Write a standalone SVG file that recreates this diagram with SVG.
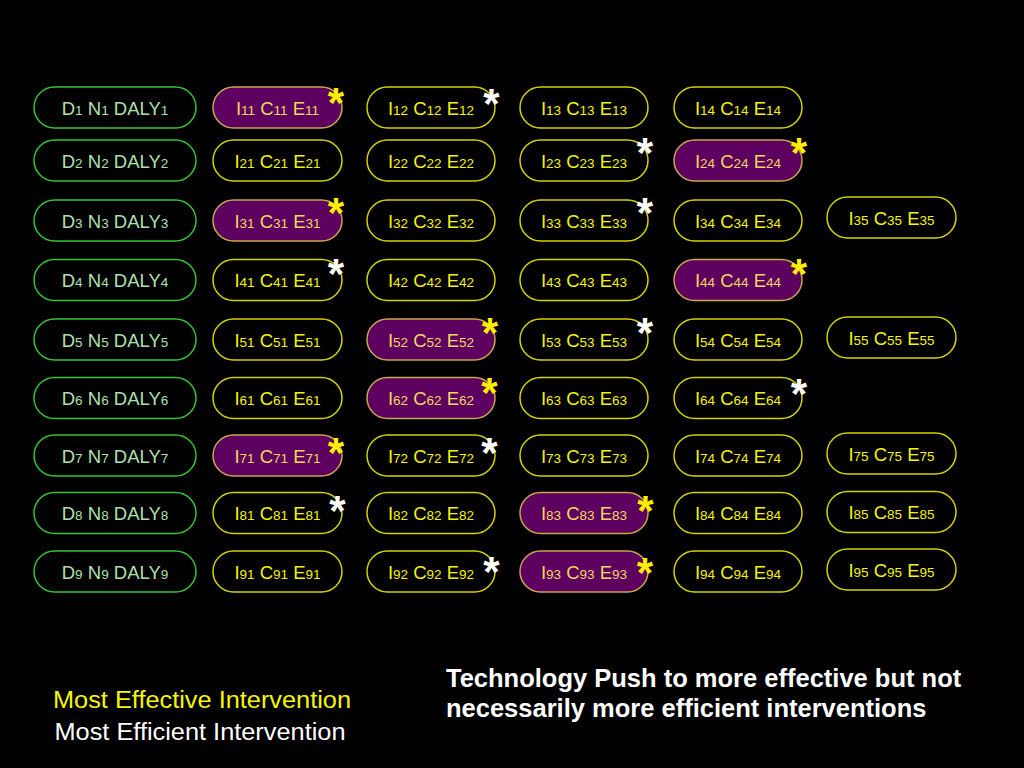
<svg xmlns="http://www.w3.org/2000/svg" width="1024" height="768" viewBox="0 0 1024 768">
<style>
.bg{fill:#000}
.dbox{fill:none;stroke:#33c433;stroke-width:1.5}
.ibox{fill:none;stroke:#d2d200;stroke-width:1.5}
.fbox{fill:#5e005f;stroke:#c8a848;stroke-width:1.5}
.dt{fill:#aee0ae;font-family:"Liberation Sans",Arial,sans-serif;font-size:18.5px;text-anchor:middle}
.it{fill:#f4f400;font-family:"Liberation Sans",Arial,sans-serif;font-size:18.5px;text-anchor:middle}
.ft{fill:#f2d860;font-family:"Liberation Sans",Arial,sans-serif;font-size:18.5px;text-anchor:middle}
.s{font-size:13.5px}
.star{font-family:"Liberation Sans",Arial,sans-serif;font-weight:bold;font-size:42px;text-anchor:middle}
.sy{fill:#ffee00}
.sw{fill:#ffffff}
.cap{font-family:"Liberation Sans",Arial,sans-serif;font-size:23px;text-anchor:middle}
.push{fill:#fff;font-family:"Liberation Sans",Arial,sans-serif;font-weight:bold;font-size:25.5px}
</style>
<rect class="bg" x="0" y="0" width="1024" height="768"/>

<g id="connectors"></g>

<!-- Column D -->
<g id="D1"><rect class="dbox" x="34" y="87" width="162" height="41" rx="20.5"/><text class="dt" x="115" y="114.5">D<tspan class="s">1</tspan> N<tspan class="s">1</tspan> DALY<tspan class="s">1</tspan></text></g>
<g id="D2"><rect class="dbox" x="34" y="140" width="162" height="41" rx="20.5"/><text class="dt" x="115" y="167.5">D<tspan class="s">2</tspan> N<tspan class="s">2</tspan> DALY<tspan class="s">2</tspan></text></g>
<g id="D3"><rect class="dbox" x="34" y="200" width="162" height="41" rx="20.5"/><text class="dt" x="115" y="227.5">D<tspan class="s">3</tspan> N<tspan class="s">3</tspan> DALY<tspan class="s">3</tspan></text></g>
<g id="D4"><rect class="dbox" x="34" y="259.5" width="162" height="41" rx="20.5"/><text class="dt" x="115" y="287">D<tspan class="s">4</tspan> N<tspan class="s">4</tspan> DALY<tspan class="s">4</tspan></text></g>
<g id="D5"><rect class="dbox" x="34" y="319" width="162" height="41" rx="20.5"/><text class="dt" x="115" y="346.5">D<tspan class="s">5</tspan> N<tspan class="s">5</tspan> DALY<tspan class="s">5</tspan></text></g>
<g id="D6"><rect class="dbox" x="34" y="377.5" width="162" height="41" rx="20.5"/><text class="dt" x="115" y="405">D<tspan class="s">6</tspan> N<tspan class="s">6</tspan> DALY<tspan class="s">6</tspan></text></g>
<g id="D7"><rect class="dbox" x="34" y="435" width="162" height="41" rx="20.5"/><text class="dt" x="115" y="462.5">D<tspan class="s">7</tspan> N<tspan class="s">7</tspan> DALY<tspan class="s">7</tspan></text></g>
<g id="D8"><rect class="dbox" x="34" y="492.5" width="162" height="41" rx="20.5"/><text class="dt" x="115" y="520">D<tspan class="s">8</tspan> N<tspan class="s">8</tspan> DALY<tspan class="s">8</tspan></text></g>
<g id="D9"><rect class="dbox" x="34" y="551" width="162" height="41" rx="20.5"/><text class="dt" x="115" y="578.5">D<tspan class="s">9</tspan> N<tspan class="s">9</tspan> DALY<tspan class="s">9</tspan></text></g>

<!-- Row 1 -->
<g id="I11"><rect class="fbox" x="213" y="87" width="129" height="41" rx="20.5"/><text class="ft" x="277.5" y="114.5">I<tspan class="s">11</tspan> C<tspan class="s">11</tspan> E<tspan class="s">11</tspan></text></g>
<g id="I12"><rect class="ibox" x="367" y="87" width="128" height="41" rx="20.5"/><text class="it" x="431" y="114.5">I<tspan class="s">12</tspan> C<tspan class="s">12</tspan> E<tspan class="s">12</tspan></text></g>
<g id="I13"><rect class="ibox" x="520" y="87" width="128" height="41" rx="20.5"/><text class="it" x="584" y="114.5">I<tspan class="s">13</tspan> C<tspan class="s">13</tspan> E<tspan class="s">13</tspan></text></g>
<g id="I14"><rect class="ibox" x="674" y="87" width="128" height="41" rx="20.5"/><text class="it" x="738" y="114.5">I<tspan class="s">14</tspan> C<tspan class="s">14</tspan> E<tspan class="s">14</tspan></text></g>

<!-- Row 2 -->
<g id="I21"><rect class="ibox" x="213" y="140" width="129" height="41" rx="20.5"/><text class="it" x="277.5" y="167.5">I<tspan class="s">21</tspan> C<tspan class="s">21</tspan> E<tspan class="s">21</tspan></text></g>
<g id="I22"><rect class="ibox" x="367" y="140" width="128" height="41" rx="20.5"/><text class="it" x="431" y="167.5">I<tspan class="s">22</tspan> C<tspan class="s">22</tspan> E<tspan class="s">22</tspan></text></g>
<g id="I23"><rect class="ibox" x="520" y="140" width="128" height="41" rx="20.5"/><text class="it" x="584" y="167.5">I<tspan class="s">23</tspan> C<tspan class="s">23</tspan> E<tspan class="s">23</tspan></text></g>
<g id="I24"><rect class="fbox" x="674" y="140" width="128" height="41" rx="20.5"/><text class="ft" x="738" y="167.5">I<tspan class="s">24</tspan> C<tspan class="s">24</tspan> E<tspan class="s">24</tspan></text></g>

<!-- Row 3 -->
<g id="I31"><rect class="fbox" x="213" y="200" width="129" height="41" rx="20.5"/><text class="ft" x="277.5" y="227.5">I<tspan class="s">31</tspan> C<tspan class="s">31</tspan> E<tspan class="s">31</tspan></text></g>
<g id="I32"><rect class="ibox" x="367" y="200" width="128" height="41" rx="20.5"/><text class="it" x="431" y="227.5">I<tspan class="s">32</tspan> C<tspan class="s">32</tspan> E<tspan class="s">32</tspan></text></g>
<g id="I33"><rect class="ibox" x="520" y="200" width="128" height="41" rx="20.5"/><text class="it" x="584" y="227.5">I<tspan class="s">33</tspan> C<tspan class="s">33</tspan> E<tspan class="s">33</tspan></text></g>
<g id="I34"><rect class="ibox" x="674" y="200" width="128" height="41" rx="20.5"/><text class="it" x="738" y="227.5">I<tspan class="s">34</tspan> C<tspan class="s">34</tspan> E<tspan class="s">34</tspan></text></g>
<g id="I35"><rect class="ibox" x="827" y="197" width="129" height="41" rx="20.5"/><text class="it" x="891.5" y="224.5">I<tspan class="s">35</tspan> C<tspan class="s">35</tspan> E<tspan class="s">35</tspan></text></g>

<!-- Row 4 -->
<g id="I41"><rect class="ibox" x="213" y="259.5" width="129" height="41" rx="20.5"/><text class="it" x="277.5" y="287">I<tspan class="s">41</tspan> C<tspan class="s">41</tspan> E<tspan class="s">41</tspan></text></g>
<g id="I42"><rect class="ibox" x="367" y="259.5" width="128" height="41" rx="20.5"/><text class="it" x="431" y="287">I<tspan class="s">42</tspan> C<tspan class="s">42</tspan> E<tspan class="s">42</tspan></text></g>
<g id="I43"><rect class="ibox" x="520" y="259.5" width="128" height="41" rx="20.5"/><text class="it" x="584" y="287">I<tspan class="s">43</tspan> C<tspan class="s">43</tspan> E<tspan class="s">43</tspan></text></g>
<g id="I44"><rect class="fbox" x="674" y="259.5" width="128" height="41" rx="20.5"/><text class="ft" x="738" y="287">I<tspan class="s">44</tspan> C<tspan class="s">44</tspan> E<tspan class="s">44</tspan></text></g>

<!-- Row 5 -->
<g id="I51"><rect class="ibox" x="213" y="319" width="129" height="41" rx="20.5"/><text class="it" x="277.5" y="346.5">I<tspan class="s">51</tspan> C<tspan class="s">51</tspan> E<tspan class="s">51</tspan></text></g>
<g id="I52"><rect class="fbox" x="367" y="319" width="128" height="41" rx="20.5"/><text class="ft" x="431" y="346.5">I<tspan class="s">52</tspan> C<tspan class="s">52</tspan> E<tspan class="s">52</tspan></text></g>
<g id="I53"><rect class="ibox" x="520" y="319" width="128" height="41" rx="20.5"/><text class="it" x="584" y="346.5">I<tspan class="s">53</tspan> C<tspan class="s">53</tspan> E<tspan class="s">53</tspan></text></g>
<g id="I54"><rect class="ibox" x="674" y="319" width="128" height="41" rx="20.5"/><text class="it" x="738" y="346.5">I<tspan class="s">54</tspan> C<tspan class="s">54</tspan> E<tspan class="s">54</tspan></text></g>
<g id="I55"><rect class="ibox" x="827" y="317" width="129" height="41" rx="20.5"/><text class="it" x="891.5" y="344.5">I<tspan class="s">55</tspan> C<tspan class="s">55</tspan> E<tspan class="s">55</tspan></text></g>

<!-- Row 6 -->
<g id="I61"><rect class="ibox" x="213" y="377.5" width="129" height="41" rx="20.5"/><text class="it" x="277.5" y="405">I<tspan class="s">61</tspan> C<tspan class="s">61</tspan> E<tspan class="s">61</tspan></text></g>
<g id="I62"><rect class="fbox" x="367" y="377.5" width="128" height="41" rx="20.5"/><text class="ft" x="431" y="405">I<tspan class="s">62</tspan> C<tspan class="s">62</tspan> E<tspan class="s">62</tspan></text></g>
<g id="I63"><rect class="ibox" x="520" y="377.5" width="128" height="41" rx="20.5"/><text class="it" x="584" y="405">I<tspan class="s">63</tspan> C<tspan class="s">63</tspan> E<tspan class="s">63</tspan></text></g>
<g id="I64"><rect class="ibox" x="674" y="377.5" width="128" height="41" rx="20.5"/><text class="it" x="738" y="405">I<tspan class="s">64</tspan> C<tspan class="s">64</tspan> E<tspan class="s">64</tspan></text></g>

<!-- Row 7 -->
<g id="I71"><rect class="fbox" x="213" y="435" width="129" height="41" rx="20.5"/><text class="ft" x="277.5" y="462.5">I<tspan class="s">71</tspan> C<tspan class="s">71</tspan> E<tspan class="s">71</tspan></text></g>
<g id="I72"><rect class="ibox" x="367" y="435" width="128" height="41" rx="20.5"/><text class="it" x="431" y="462.5">I<tspan class="s">72</tspan> C<tspan class="s">72</tspan> E<tspan class="s">72</tspan></text></g>
<g id="I73"><rect class="ibox" x="520" y="435" width="128" height="41" rx="20.5"/><text class="it" x="584" y="462.5">I<tspan class="s">73</tspan> C<tspan class="s">73</tspan> E<tspan class="s">73</tspan></text></g>
<g id="I74"><rect class="ibox" x="674" y="435" width="128" height="41" rx="20.5"/><text class="it" x="738" y="462.5">I<tspan class="s">74</tspan> C<tspan class="s">74</tspan> E<tspan class="s">74</tspan></text></g>
<g id="I75"><rect class="ibox" x="827" y="433" width="129" height="41" rx="20.5"/><text class="it" x="891.5" y="460.5">I<tspan class="s">75</tspan> C<tspan class="s">75</tspan> E<tspan class="s">75</tspan></text></g>

<!-- Row 8 -->
<g id="I81"><rect class="ibox" x="213" y="492.5" width="129" height="41" rx="20.5"/><text class="it" x="277.5" y="520">I<tspan class="s">81</tspan> C<tspan class="s">81</tspan> E<tspan class="s">81</tspan></text></g>
<g id="I82"><rect class="ibox" x="367" y="492.5" width="128" height="41" rx="20.5"/><text class="it" x="431" y="520">I<tspan class="s">82</tspan> C<tspan class="s">82</tspan> E<tspan class="s">82</tspan></text></g>
<g id="I83"><rect class="fbox" x="520" y="492.5" width="128" height="41" rx="20.5"/><text class="ft" x="584" y="520">I<tspan class="s">83</tspan> C<tspan class="s">83</tspan> E<tspan class="s">83</tspan></text></g>
<g id="I84"><rect class="ibox" x="674" y="492.5" width="128" height="41" rx="20.5"/><text class="it" x="738" y="520">I<tspan class="s">84</tspan> C<tspan class="s">84</tspan> E<tspan class="s">84</tspan></text></g>
<g id="I85"><rect class="ibox" x="827" y="491.5" width="129" height="41" rx="20.5"/><text class="it" x="891.5" y="519">I<tspan class="s">85</tspan> C<tspan class="s">85</tspan> E<tspan class="s">85</tspan></text></g>

<!-- Row 9 -->
<g id="I91"><rect class="ibox" x="213" y="551" width="129" height="41" rx="20.5"/><text class="it" x="277.5" y="578.5">I<tspan class="s">91</tspan> C<tspan class="s">91</tspan> E<tspan class="s">91</tspan></text></g>
<g id="I92"><rect class="ibox" x="367" y="551" width="128" height="41" rx="20.5"/><text class="it" x="431" y="578.5">I<tspan class="s">92</tspan> C<tspan class="s">92</tspan> E<tspan class="s">92</tspan></text></g>
<g id="I93"><rect class="fbox" x="520" y="551" width="128" height="41" rx="20.5"/><text class="ft" x="584" y="578.5">I<tspan class="s">93</tspan> C<tspan class="s">93</tspan> E<tspan class="s">93</tspan></text></g>
<g id="I94"><rect class="ibox" x="674" y="551" width="128" height="41" rx="20.5"/><text class="it" x="738" y="578.5">I<tspan class="s">94</tspan> C<tspan class="s">94</tspan> E<tspan class="s">94</tspan></text></g>
<g id="I95"><rect class="ibox" x="827" y="549" width="129" height="41" rx="20.5"/><text class="it" x="891.5" y="576.5">I<tspan class="s">95</tspan> C<tspan class="s">95</tspan> E<tspan class="s">95</tspan></text></g>

<!-- Asterisks -->
<g id="stars" class="star">
<text class="sy" x="336" y="117">*</text>
<text class="sw" x="491.5" y="117.5">*</text>
<text class="sw" x="645" y="167">*</text>
<text class="sy" x="799" y="167">*</text>
<text class="sy" x="336" y="227">*</text>
<text class="sw" x="645" y="227">*</text>
<text class="sw" x="336" y="287.5">*</text>
<text class="sy" x="799" y="288">*</text>
<text class="sy" x="490" y="347">*</text>
<text class="sw" x="645" y="347">*</text>
<text class="sy" x="489.5" y="407">*</text>
<text class="sw" x="799" y="407.5">*</text>
<text class="sy" x="336" y="467">*</text>
<text class="sw" x="489.5" y="467">*</text>
<text class="sw" x="337.5" y="525">*</text>
<text class="sy" x="645.5" y="525">*</text>
<text class="sw" x="491.5" y="586">*</text>
<text class="sy" x="645" y="587">*</text>
</g>

<!-- Captions -->
<g id="legend">
<text class="cap" x="202" y="707.5" fill="#f6f600" textLength="298" lengthAdjust="spacingAndGlyphs">Most Effective Intervention</text>
<text class="cap" x="200" y="740" fill="#ffffff" textLength="291" lengthAdjust="spacingAndGlyphs">Most Efficient Intervention</text>
</g>
<g id="note">
<text class="push" x="446" y="687">Technology Push to more effective but not</text>
<text class="push" x="446" y="717">necessarily more efficient interventions</text>
</g>
</svg>
